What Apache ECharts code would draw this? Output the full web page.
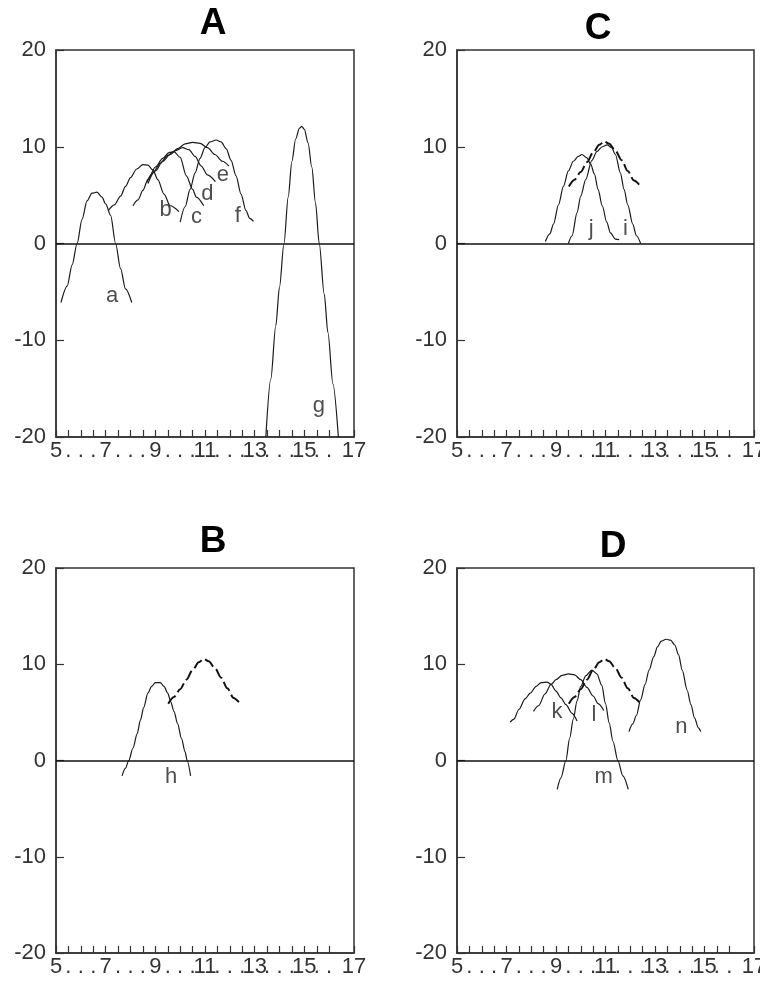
<!DOCTYPE html>
<html>
<head>
<meta charset="utf-8">
<script src="https://cdn.jsdelivr.net/npm/echarts@6/dist/echarts.min.js"></script>
<style>
  html, body { margin: 0; padding: 0; background: #fff; }
  #chart { width: 760px; height: 986px; }
</style>
</head>
<body>
<div id="chart"></div>
<script>
// ---------- data ----------
const panelTitles = ['A', 'C', 'B', 'D'];
const xTickLabels = ['5', '7', '9', '11', '13', '15', '17'];
const yTickValues = [-20, -10, 0, 10, 20];

// Panel A
const curveA_a = [[5.2,-6.1],[5.45,-4.4],[5.65,-2.2],[5.85,0],[6.05,2.5],[6.25,4.4],[6.45,5.2],[6.65,5.3],[6.85,4.8],[7.0,4.1],[7.2,2.9],[7.4,0],[7.6,-2.6],[7.8,-4.7],[8.05,-6.1]];
const curveA_b = [[7.1,3.4],[7.35,4.0],[7.6,4.9],[7.8,5.9],[8.0,6.8],[8.25,7.7],[8.5,8.15],[8.7,8.1],[8.9,7.6],[9.1,6.6],[9.35,5.1],[9.6,3.9],[9.95,3.3]];
const curveA_c = [[8.1,3.9],[8.3,4.5],[8.5,5.5],[8.7,6.6],[9.0,7.9],[9.3,8.8],[9.55,9.4],[9.75,9.5],[10.0,8.9],[10.25,7.0],[10.5,5.6],[10.65,4.8],[10.95,3.9]];
const curveA_d = [[8.65,6.3],[8.9,7.3],[9.2,8.3],[9.5,9.1],[9.8,9.6],[10.1,9.9],[10.35,9.7],[10.6,9.0],[10.85,8.0],[11.1,7.1],[11.42,6.4]];
const curveA_e = [[8.7,6.2],[9.0,7.5],[9.3,8.5],[9.6,9.2],[9.9,9.8],[10.2,10.3],[10.5,10.45],[10.8,10.35],[11.1,9.9],[11.4,9.2],[11.7,8.5],[11.96,8.0]];
const curveA_f = [[10.0,2.2],[10.2,3.8],[10.4,5.6],[10.6,7.3],[10.8,8.8],[11.0,9.9],[11.2,10.5],[11.45,10.7],[11.65,10.5],[11.85,9.8],[12.05,8.6],[12.25,7.0],[12.45,5.1],[12.65,3.4],[12.8,2.6],[12.95,2.3]];
const curveA_g = [[13.45,-20],[13.65,-14],[13.85,-8.5],[14.0,-4.5],[14.18,0],[14.35,4.8],[14.5,8.5],[14.65,10.8],[14.8,11.9],[14.9,12.1],[15.0,11.8],[15.15,10.4],[15.3,7.9],[15.45,4.2],[15.6,0],[15.8,-5.2],[15.95,-9.2],[16.15,-14.5],[16.37,-20]];

// shared dashed curve (B, C, D)
const curveDashed = [[9.52,5.9],[9.75,6.6],[10.0,7.4],[10.25,8.4],[10.5,9.4],[10.75,10.2],[10.95,10.55],[11.15,10.3],[11.4,9.6],[11.65,8.6],[11.9,7.5],[12.15,6.5],[12.42,5.9]];

// Panel B
const curveB_h = [[7.66,-1.6],[7.8,-0.8],[7.93,0],[8.1,1.3],[8.27,2.8],[8.4,4.2],[8.53,5.5],[8.7,7.0],[8.85,7.7],[9.0,8.1],[9.2,8.1],[9.35,7.7],[9.5,7.0],[9.62,6.1],[9.75,5.1],[9.9,3.8],[10.05,2.3],[10.2,0.9],[10.28,0],[10.42,-1.6]];

// Panel C
const curveC_j = [[8.57,0.2],[8.75,1.0],[8.9,2.0],[9.1,4.0],[9.3,5.9],[9.5,7.5],[9.7,8.5],[9.9,9.0],[10.05,9.2],[10.25,8.85],[10.4,8.2],[10.55,7.2],[10.7,5.6],[10.87,3.9],[11.05,2.2],[11.2,1.1],[11.4,0.45],[11.55,0.4]];
const curveC_i = [[9.5,0],[9.65,0.8],[9.85,3.2],[10.0,4.9],[10.2,6.6],[10.45,8.6],[10.65,9.5],[10.87,10.0],[11.07,10.2],[11.25,9.9],[11.4,9.2],[11.6,7.3],[11.75,5.6],[11.9,4.0],[12.1,2.0],[12.25,0.8],[12.42,0]];

// Panel D
const curveD_k = [[7.15,4.0],[7.3,4.3],[7.5,5.3],[7.75,6.4],[7.96,7.0],[8.2,7.7],[8.4,8.1],[8.64,8.15],[8.8,7.9],[9.0,7.2],[9.2,6.5],[9.4,5.8],[9.65,4.9],[9.85,4.1]];
const curveD_l = [[8.09,5.1],[8.3,5.7],[8.55,6.9],[8.8,7.9],[9.0,8.4],[9.25,8.85],[9.5,9.0],[9.75,8.9],[10.0,8.4],[10.25,7.6],[10.5,6.7],[10.7,5.9],[10.93,5.2]];
const curveD_m = [[9.05,-3.0],[9.2,-1.8],[9.4,0],[9.55,2.3],[9.7,4.3],[9.85,6.2],[10.0,7.7],[10.2,8.8],[10.45,9.4],[10.65,9.0],[10.85,7.8],[11.0,5.9],[11.15,3.9],[11.3,2.0],[11.5,0],[11.7,-1.6],[11.92,-3.0]];
const curveD_n = [[11.95,3.0],[12.1,3.8],[12.25,4.7],[12.42,6.3],[12.6,7.9],[12.76,9.4],[12.95,10.8],[13.1,11.8],[13.25,12.4],[13.45,12.6],[13.63,12.5],[13.8,12.0],[13.95,11.0],[14.1,9.4],[14.3,7.3],[14.45,5.8],[14.6,4.4],[14.75,3.4],[14.85,3.0]];

// curve letter annotations: [panelIndex, letter, x, y]
const curveLetters = [
  [0,'a',7.26,-5.4],[0,'b',9.41,3.5],[0,'c',10.66,2.7],[0,'d',11.1,5.1],[0,'e',11.72,7.1],[0,'f',12.32,2.9],[0,'g',15.59,-16.8],
  [1,'j',10.42,1.5],[1,'i',11.81,1.5],
  [2,'h',9.64,-1.7],
  [3,'k',9.04,5.0],[3,'l',10.53,4.7],[3,'m',10.93,-1.7],[3,'n',14.07,3.5]
];

// which curves go in which panel (index: 0=A,1=C,2=B,3=D)
const panelCurves = [
  [curveA_a, curveA_b, curveA_c, curveA_d, curveA_e, curveA_f, curveA_g],
  [curveC_j, curveC_i],
  [curveB_h],
  [curveD_k, curveD_l, curveD_m, curveD_n]
];
const panelDashed = [null, curveDashed, curveDashed, curveDashed];

// ---------- layout ----------
const grids = [
  { left: 56, top: 50, width: 298, height: 387 },
  { left: 457, top: 50, width: 297, height: 387 },
  { left: 56, top: 568, width: 298, height: 385 },
  { left: 457, top: 568, width: 297, height: 385 }
];
const titlePos = [[213, 24], [598, 29], [213, 542], [613, 547]];

const FONT = '"Liberation Sans", Arial, sans-serif';
const INK = '#1a1a1a';

const chart = echarts.init(document.getElementById('chart'), null, { renderer: 'canvas' });

const xAxes = [], yAxes = [], series = [], graphics = [];
grids.forEach((g, i) => {
  xAxes.push({
    gridIndex: i, type: 'value', min: 5, max: 17, interval: 0.5,
    axisLine: { show: true, onZero: false, lineStyle: { color: '#333', width: 1.5 } },
    axisTick: { show: true, inside: true, length: 7, lineStyle: { color: '#333', width: 1.2 } },
    splitLine: { show: false },
    axisLabel: {
      show: true, margin: 3, fontFamily: FONT, fontSize: 22, color: '#333',
      showMinLabel: true, showMaxLabel: true, hideOverlap: false,
      formatter: v => {
        const s = String(Math.round(v * 10) / 10);
        return xTickLabels.indexOf(s) >= 0 ? s : '.';
      }
    }
  });
  yAxes.push({
    gridIndex: i, type: 'value', min: yTickValues[0], max: yTickValues[yTickValues.length - 1], interval: 10,
    axisLine: { show: true, onZero: false, lineStyle: { color: '#333', width: 1.5 } },
    axisTick: { show: true, inside: true, length: 8, lineStyle: { color: '#333', width: 1.2 } },
    splitLine: { show: false },
    axisLabel: { show: true, margin: 10, fontFamily: FONT, fontSize: 22, color: '#333', showMinLabel: true, showMaxLabel: true }
  });

  panelCurves[i].forEach((c, k) => {
    const s = {
      type: 'line', xAxisIndex: i, yAxisIndex: i, data: c,
      showSymbol: false, symbol: 'none', smooth: 0.3, smoothMonotone: 'x',
      lineStyle: { color: INK, width: 1.2 }, silent: true, animation: false, z: 3
    };
    if (k === 0) {
      s.markLine = {
        silent: true, symbol: 'none', animation: false,
        label: { show: false },
        lineStyle: { color: '#111', width: 1.5, type: 'solid' },
        data: [{ yAxis: 0 }]
      };
    }
    series.push(s);
  });

  if (panelDashed[i]) {
    series.push({
      type: 'line', xAxisIndex: i, yAxisIndex: i, data: panelDashed[i],
      showSymbol: false, symbol: 'none', smooth: 0.3, smoothMonotone: 'x',
      lineStyle: { color: '#111', width: 2, type: [11, 4] }, silent: true, animation: false, z: 4
    });
  }

  series.push({
    type: 'scatter', xAxisIndex: i, yAxisIndex: i, symbolSize: 0, silent: true, animation: false,
    data: curveLetters.filter(l => l[0] === i).map(l => ({ value: [l[2], l[3]], name: l[1] })),
    label: {
      show: true, position: 'inside', formatter: '{b}',
      fontFamily: FONT, fontSize: 22, color: '#222'
    },
    z: 5
  });

  graphics.push({
    type: 'text', x: titlePos[i][0], y: titlePos[i][1],
    style: {
      text: panelTitles[i], font: 'bold 37px ' + FONT, fill: '#000',
      textAlign: 'center', textVerticalAlign: 'middle'
    }
  });
});

chart.setOption({
  animation: false,
  backgroundColor: '#fff',
  grid: grids.map(g => Object.assign({
    show: true, borderColor: '#333', borderWidth: 1.5, backgroundColor: 'transparent',
    containLabel: false, outerBoundsMode: 'none'
  }, g)),
  xAxis: xAxes,
  yAxis: yAxes,
  series: series,
  graphic: graphics
});
</script>
</body>
</html>
